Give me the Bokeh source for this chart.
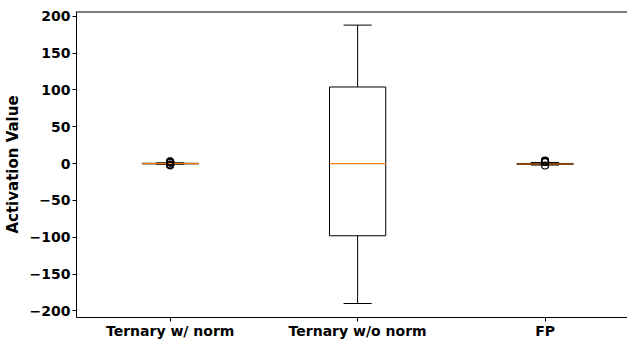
from bokeh.plotting import figure
from bokeh.models import FixedTicker, Range1d, Span
from bokeh.embed import file_html
from bokeh.resources import INLINE

categories = ["Ternary w/ norm", "Ternary w/o norm", "FP"]
positions = [1, 2, 3]
q1 = [-0.4, -98, -1.2]
q3 = [0.4, 104, 0.2]
median = [0.0, 0.0, -0.6]
lower = [-1.0, -190, -2.0]
upper = [1.0, 188, 1.5]
outlier_x = [1, 1, 1, 1, 1, 1, 1, 1, 3, 3, 3, 3, 3, 3]
outlier_y = [-2.4, -1.8, -1.3, 1.3, 1.7, 2.1, 2.6, 3.0, 2.0, 2.5, 2.9, 3.4, 4.0, -2.6]
y_ticks = [-200, -150, -100, -50, 0, 50, 100, 150, 200]
y_min, y_max = -209, 206.5

half = 0.15
cap = 0.075

p = figure(width=627, height=341, output_backend="svg", toolbar_location=None,
           x_range=Range1d(0.5, 3.44), y_range=Range1d(y_min, y_max),
           min_border_left=60, min_border_right=0, min_border_top=11, min_border_bottom=0)
p.outline_line_color = None
p.xgrid.visible = False
p.ygrid.visible = False
p.background_fill_color = "white"

# boxes
p.quad(left=[x - half for x in positions], right=[x + half for x in positions],
       bottom=q1, top=q3, fill_color=None, line_color="black", line_width=1)
# whiskers
p.segment(x0=positions, x1=positions, y0=q3, y1=upper, line_color="black", line_width=1)
p.segment(x0=positions, x1=positions, y0=q1, y1=lower, line_color="black", line_width=1)
# caps
p.segment(x0=[x - cap for x in positions], x1=[x + cap for x in positions],
          y0=upper, y1=upper, line_color="black", line_width=1)
p.segment(x0=[x - cap for x in positions], x1=[x + cap for x in positions],
          y0=lower, y1=lower, line_color="black", line_width=1)
# medians
p.segment(x0=[x - half for x in positions], x1=[x + half for x in positions],
          y0=median, y1=median, line_color="#ff7f0e", line_width=1.2)
# outliers
p.scatter(x=outlier_x, y=outlier_y, marker="circle", size=7, fill_color=None,
          line_color="black", line_width=1.2)

# top spine
p.add_layout(Span(location=y_max, dimension="width", line_color="black", line_width=2))

font = "DejaVu Sans"
for ax in (p.xaxis[0], p.yaxis[0]):
    ax.major_label_text_font = font
    ax.major_label_text_font_style = "bold"
    ax.major_label_text_font_size = "14px"
    ax.major_label_text_color = "black"
    ax.axis_line_color = "black"
    ax.major_tick_line_color = "black"
    ax.major_tick_out = 4
    ax.major_tick_in = 0
    ax.minor_tick_line_color = None

p.xaxis[0].ticker = FixedTicker(ticks=positions)
p.xaxis[0].major_label_overrides = {x: c for x, c in zip(positions, categories)}
p.xaxis[0].major_label_standoff = 1
p.yaxis[0].ticker = FixedTicker(ticks=y_ticks)
p.yaxis[0].major_label_overrides = {t: str(t).replace("-", "\u2212") for t in y_ticks}
p.yaxis[0].major_label_standoff = 2
p.yaxis[0].axis_label = "Activation Value"
p.yaxis[0].axis_label_text_font = font
p.yaxis[0].axis_label_text_font_style = "bold"
p.yaxis[0].axis_label_text_font_size = "15px"
p.yaxis[0].axis_label_text_color = "black"
p.yaxis[0].axis_label_standoff = 5

open("out.html", "w").write(file_html(p, INLINE))
